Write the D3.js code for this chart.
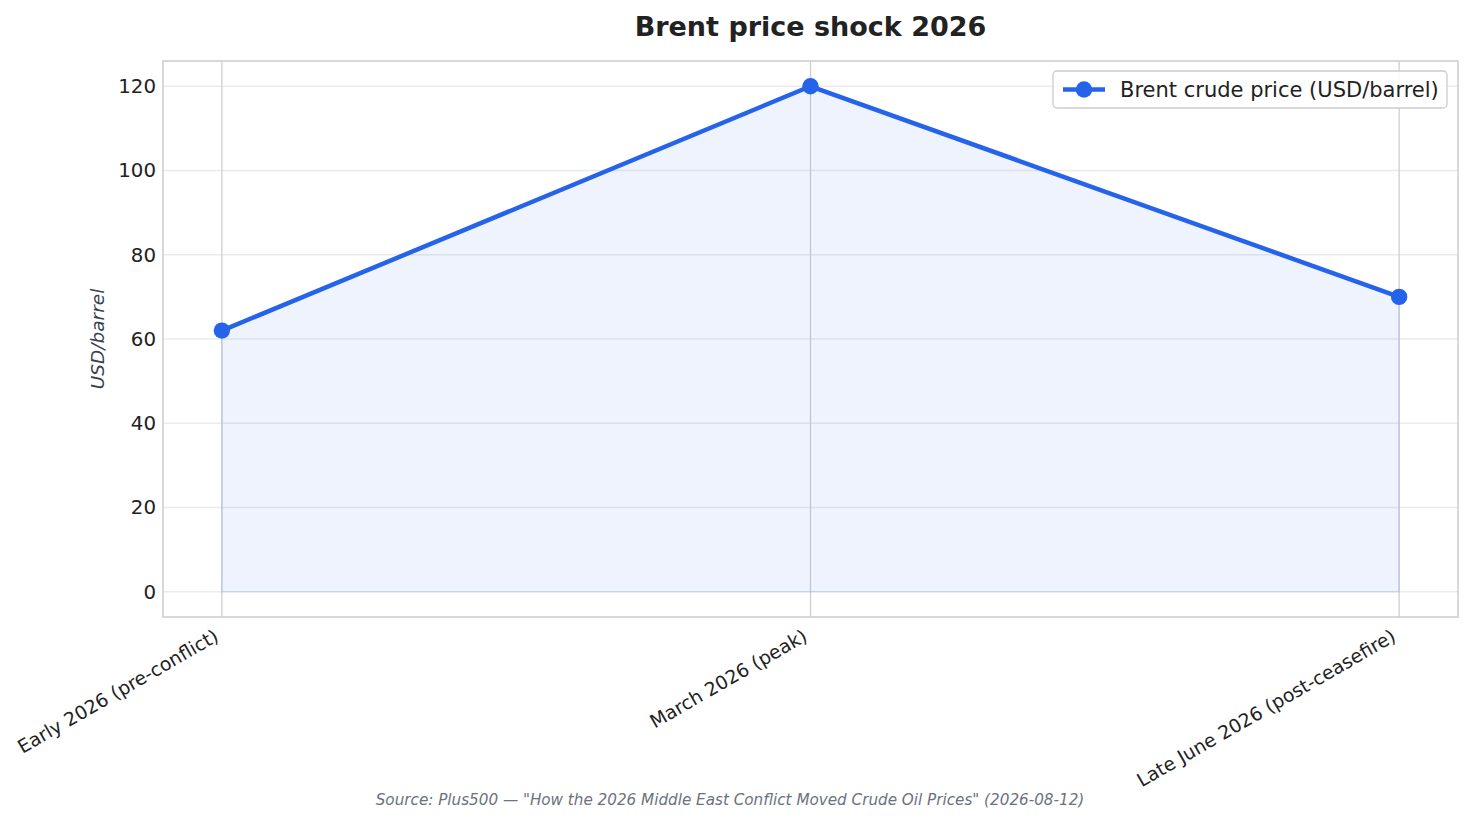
<!DOCTYPE html>
<html>
<head>
<meta charset="utf-8">
<script src="https://cdn.jsdelivr.net/npm/d3@7"></script>
<style>
  body { margin: 0; background: #fff; }
  svg { font-family: "DejaVu Sans", sans-serif; }
</style>
</head>
<body>
<div id="chart"></div>
<script>
// data
const categories = ["Early 2026 (pre-conflict)", "March 2026 (peak)", "Late June 2026 (post-ceasefire)"];
const prices = [62, 120, 70];
const yTicks = [0, 20, 40, 60, 80, 100, 120];
const seriesName = "Brent crude price (USD/barrel)";
const title = "Brent price shock 2026";
const yLabel = "USD/barrel";
const source = 'Source: Plus500 \u2014 "How the 2026 Middle East Conflict Moved Crude Oil Prices" (2026-08-12)';

const width = 1473, height = 824;
const margin = {top: 61, right: 15, bottom: 207, left: 163};
const blue = "#2563eb";

const svg = d3.select("#chart").append("svg")
    .attr("width", width)
    .attr("height", height);

const x = d3.scaleLinear()
    .domain([-0.1, categories.length - 0.9])
    .range([margin.left, width - margin.right]);

const y = d3.scaleLinear()
    .domain([-6, 126])
    .range([height - margin.bottom, margin.top]);

const data = categories.map((c, i) => ({cat: c, i: i, v: prices[i]}));

// horizontal grid
svg.append("g")
    .selectAll("line")
    .data(yTicks)
    .join("line")
    .attr("x1", margin.left).attr("x2", width - margin.right)
    .attr("y1", d => y(d)).attr("y2", d => y(d))
    .attr("stroke", "#ebebeb")
    .attr("stroke-width", 1.3);

// vertical grid at categories
svg.append("g")
    .selectAll("line")
    .data(data)
    .join("line")
    .attr("x1", d => x(d.i)).attr("x2", d => x(d.i))
    .attr("y1", margin.top).attr("y2", height - margin.bottom)
    .attr("stroke", "#cfcfcf")
    .attr("stroke-width", 1.3);

// area fill
const area = d3.area()
    .x(d => x(d.i))
    .y0(y(0))
    .y1(d => y(d.v));

svg.append("path")
    .datum(data)
    .attr("d", area)
    .attr("fill", blue)
    .attr("fill-opacity", 0.08)
    .attr("stroke", blue)
    .attr("stroke-opacity", 0.12)
    .attr("stroke-width", 1.3);

// line
const line = d3.line()
    .x(d => x(d.i))
    .y(d => y(d.v));

svg.append("path")
    .datum(data)
    .attr("d", line)
    .attr("fill", "none")
    .attr("stroke", blue)
    .attr("stroke-width", 4.5)
    .attr("stroke-linejoin", "round");

svg.append("g")
    .selectAll("circle")
    .data(data)
    .join("circle")
    .attr("cx", d => x(d.i))
    .attr("cy", d => y(d.v))
    .attr("r", 8.2)
    .attr("fill", blue);

// frame
svg.append("rect")
    .attr("x", margin.left)
    .attr("y", margin.top)
    .attr("width", width - margin.left - margin.right)
    .attr("height", height - margin.top - margin.bottom)
    .attr("fill", "none")
    .attr("stroke", "#cccccc")
    .attr("stroke-width", 1.5);

// y axis
const yAxis = svg.append("g")
    .attr("transform", `translate(${margin.left},0)`)
    .call(d3.axisLeft(y).tickValues(yTicks).tickSize(0).tickPadding(7));
yAxis.select(".domain").remove();
yAxis.selectAll("text")
    .attr("font-family", "DejaVu Sans")
    .attr("font-size", 19.8)
    .attr("fill", "#222");

// x axis labels, rotated
svg.append("g")
    .selectAll("text")
    .data(data)
    .join("text")
    .attr("transform", d => `translate(${x(d.i) - 2},${height - margin.bottom + 23}) rotate(-30)`)
    .attr("text-anchor", "end")
    .attr("font-size", 18.8)
    .attr("fill", "#222")
    .text(d => d.cat);

// y label
svg.append("text")
    .attr("transform", `translate(104,${(margin.top + height - margin.bottom) / 2}) rotate(-90)`)
    .attr("text-anchor", "middle")
    .attr("font-size", 18.5)
    .attr("font-style", "italic")
    .attr("fill", "#374151")
    .text(yLabel);

// title
svg.append("text")
    .attr("x", (margin.left + width - margin.right) / 2)
    .attr("y", 36)
    .attr("text-anchor", "middle")
    .attr("font-size", 27)
    .attr("font-weight", "bold")
    .attr("fill", "#222")
    .text(title);

// legend
const lg = svg.append("g").attr("transform", "translate(1053,71)");
lg.append("rect")
    .attr("width", 394).attr("height", 37)
    .attr("rx", 4)
    .attr("fill", "#fff")
    .attr("fill-opacity", 0.85)
    .attr("stroke", "#cccccc")
    .attr("stroke-width", 1.3);
lg.append("line")
    .attr("x1", 10).attr("x2", 52)
    .attr("y1", 18.5).attr("y2", 18.5)
    .attr("stroke", blue)
    .attr("stroke-width", 4.5);
lg.append("circle")
    .attr("cx", 31).attr("cy", 18.5).attr("r", 8.2)
    .attr("fill", blue);
lg.append("text")
    .attr("x", 67).attr("y", 25.5)
    .attr("font-size", 21)
    .attr("fill", "#222")
    .text(seriesName);

// source note
svg.append("text")
    .attr("x", 730)
    .attr("y", 805)
    .attr("text-anchor", "middle")
    .attr("font-size", 15.2)
    .attr("font-style", "italic")
    .attr("fill", "#6b7280")
    .text(source);
</script>
</body>
</html>
